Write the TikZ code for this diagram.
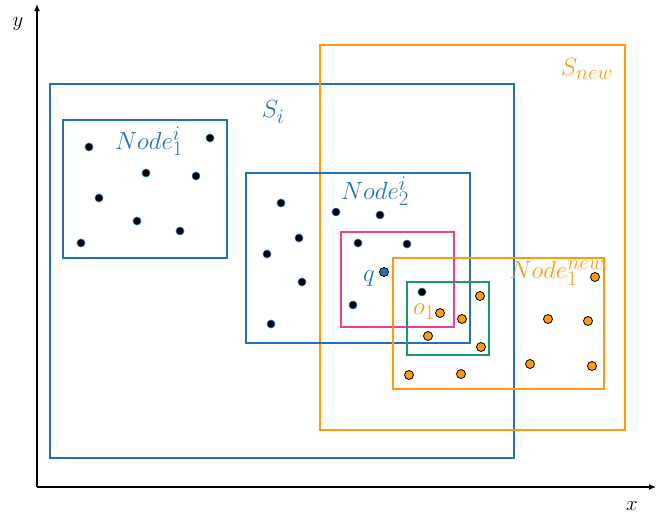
\documentclass[tikz,border=0pt]{standalone}
\usetikzlibrary{arrows.meta}
\definecolor{cblue}{HTML}{2471B8}
\definecolor{corange}{HTML}{FF9A0E}
\definecolor{cpink}{HTML}{EE3D96}
\definecolor{cgreen}{HTML}{1F9A62}
\begin{document}
\begin{tikzpicture}[x=1pt,y=-1pt,
  axis/.style={line width=1.3pt,-{Latex[length=7pt,width=6pt]}},
  region/.style={line width=2.2pt},
  lbl/.style={font=\Huge},
  albl/.style={font=\huge},
  bdot/.style={circle,inner sep=0pt,minimum size=8pt,fill=black,draw=cblue,line width=0.6pt},
  odot/.style={circle,inner sep=0pt,minimum size=9pt,fill=corange,draw=black,line width=0.8pt},
  qdot/.style={circle,inner sep=0pt,minimum size=9pt,fill=cblue,draw=black,line width=0.8pt}]
\useasboundingbox (0,0) rectangle (670,520);
% axes
\coordinate (O) at (37,487);
\coordinate (ytop) at (37,4);
\coordinate (xend) at (656,487);
\draw[axis] (O) -- (ytop);
\draw[axis] (O) -- (xend);
\node[albl] (ylab) at (18,24) {$y$};
\node[albl] (xlab) at (632,506) {$x$};
% regions
\draw[region,cblue] (50,84) rectangle (514,458);
\draw[region,corange] (320,45) rectangle (625,430);
\draw[region,cblue] (63,120) rectangle (227,258);
\draw[region,cblue] (246,173) rectangle (470,343);
\draw[region,cpink] (341,232) rectangle (454,327);
\draw[region,corange] (393,258) rectangle (604,389);
\draw[region,cgreen] (407,282) rectangle (489,355);
% labels
\node[lbl,text=cblue] (si) at (273,112) {$S_i$};
\node[lbl,text=corange] (snew) at (587,69) {$S_{new}$};
\node[lbl,text=cblue] (n1) at (149,141) {$Node_1^i$};
\node[lbl,text=cblue] (n2) at (375,191) {$Node_2^i$};
\node[lbl,text=corange] (n1new) at (557,273) {$Node_1^{new}$};
\node[lbl,text=cblue] (ql) at (369,279) {$q$};
\node[lbl,text=corange] (ol) at (424,312) {$o_1$};
% points of Node_1^i
\foreach \p [count=\k] in {(89,147),(210,138),(146,173),(196,176),(99,198),(137,221),(180,231),(81,243)}
  \node[bdot] (a\k) at \p {};
% points of Node_2^i
\foreach \p [count=\k] in {(281,203),(336,212),(380,215),(299,238),(267,254),(358,243),(407,244),(302,282),(271,324),(353,305),(422,292)}
  \node[bdot] (b\k) at \p {};
% query point
\node[qdot] (q) at (384,272) {};
% points of Node_1^{new}
\foreach \p [count=\k] in {(440,313),(462,319),(480,296),(428,336),(481,347),(595,277),(548,319),(588,321),(530,364),(592,366),(409,375),(461,374)}
  \node[odot] (c\k) at \p {};
\end{tikzpicture}
\end{document}
